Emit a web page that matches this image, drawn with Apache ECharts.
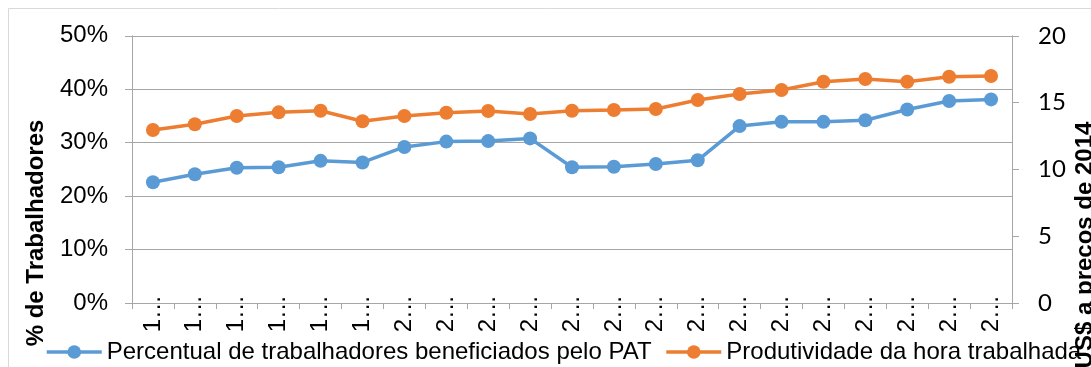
<!DOCTYPE html>
<html>
<head>
<meta charset="utf-8">
<script src="https://cdn.jsdelivr.net/npm/echarts@6/dist/echarts.min.js"></script>
<style>
  html, body { margin: 0; padding: 0; background: #fff; }
  #chart { width: 1091px; height: 367px; }
</style>
</head>
<body>
<div id="chart"></div>
<script>
// Years on the category axis
const years = [1994, 1995, 1996, 1997, 1998, 1999, 2000, 2001, 2002, 2003, 2004,
               2005, 2006, 2007, 2008, 2009, 2010, 2011, 2012, 2013, 2014];

// Share of workers covered by PAT (%)
const patShare = [22.6, 24.1, 25.3, 25.4, 26.6, 26.3, 29.2, 30.2, 30.3, 30.8, 25.4,
                  25.5, 26.0, 26.7, 33.1, 33.9, 33.9, 34.2, 36.2, 37.8, 38.1];

// Labour productivity per hour worked (US$ at 2014 prices)
const productivity = [12.95, 13.38, 14.0, 14.27, 14.39, 13.6, 14.0, 14.24, 14.37, 14.15, 14.39,
                      14.45, 14.52, 15.19, 15.64, 15.94, 16.56, 16.77, 16.56, 16.94, 16.99];

const seriesNames = ['Percentual de trabalhadores beneficiados pelo PAT', 'Produtividade da hora trabalhada'];
const leftTitle = '% de Trabalhadores';
const rightTitle = 'US$ a precos de 2014';

const BLUE = '#5B9BD5';
const ORANGE = '#ED7D31';
const GRID = '#A6A6A6';
const FONT = '"Liberation Sans", Arial, sans-serif';

const chart = echarts.init(document.getElementById('chart'), null, { renderer: 'canvas' });

chart.setOption({
  animation: false,
  backgroundColor: '#fff',
  grid: { left: 132, right: 79, top: 35.8, bottom: 64, containLabel: false },
  legend: {
    left: 45,
    top: 340,
    width: 1100,
    padding: 0,
    itemWidth: 55,
    itemHeight: 17,
    itemGap: 13,
    lineStyle: { width: 3.5 },
    textStyle: { fontFamily: FONT, fontSize: 24, color: '#000' },
    data: seriesNames
  },
  xAxis: {
    type: 'category',
    data: years,
    boundaryGap: true,
    axisLine: { lineStyle: { color: GRID, width: 1 } },
    axisTick: { show: true, interval: 0, length: 6, lineStyle: { color: GRID } },
    axisLabel: {
      interval: 0,
      rotate: 90,
      margin: -8,
      fontFamily: FONT,
      fontSize: 24,
      color: '#000',
      formatter: v => String(v).charAt(0) + '\u2026'
    },
    splitLine: { show: false }
  },
  yAxis: [
    {
      type: 'value',
      min: 0, max: 50, interval: 10,
      axisLine: { show: true, lineStyle: { color: GRID } },
      axisTick: { show: true, length: 7, lineStyle: { color: GRID } },
      axisLabel: { formatter: '{value}%', fontFamily: FONT, fontSize: 24, color: '#000', margin: 24 },
      splitLine: { show: true, lineStyle: { color: GRID, width: 1 } }
    },
    {
      type: 'value',
      min: 0, max: 20, interval: 5,
      position: 'right',
      axisLine: { show: true, lineStyle: { color: GRID } },
      axisTick: { show: true, length: 7, lineStyle: { color: GRID } },
      axisLabel: { fontFamily: 'Lato, "Open Sans", sans-serif', fontSize: 24, color: '#000', margin: 26 },
      splitLine: { show: false }
    }
  ],
  series: [
    {
      name: seriesNames[0],
      type: 'line',
      yAxisIndex: 0,
      data: patShare,
      symbol: 'circle',
      symbolSize: 14,
      lineStyle: { color: BLUE, width: 3.5 },
      itemStyle: { color: BLUE }
    },
    {
      name: seriesNames[1],
      type: 'line',
      yAxisIndex: 1,
      data: productivity,
      symbol: 'circle',
      symbolSize: 14,
      lineStyle: { color: ORANGE, width: 3.5 },
      itemStyle: { color: ORANGE }
    }
  ],
  graphic: [
    {
      type: 'rect',
      silent: true,
      z: -1,
      shape: { x: 8.5, y: 8.5, width: 1100, height: 400 },
      style: { fill: 'none', stroke: '#D9D9D9', lineWidth: 1 }
    },
    {
      type: 'text',
      x: 36, y: 233,
      rotation: Math.PI / 2,
      style: {
        text: leftTitle,
        fontFamily: FONT, fontSize: 24, fontWeight: 'bold', fill: '#000',
        align: 'center', verticalAlign: 'middle'
      }
    },
    {
      type: 'text',
      x: 1085, y: 245,
      rotation: Math.PI / 2,
      z: 10,
      style: {
        text: rightTitle,
        fontFamily: FONT, fontSize: 24, fontWeight: 'bold', fill: '#000',
        align: 'center', verticalAlign: 'middle'
      }
    }
  ]
});
</script>
</body>
</html>
